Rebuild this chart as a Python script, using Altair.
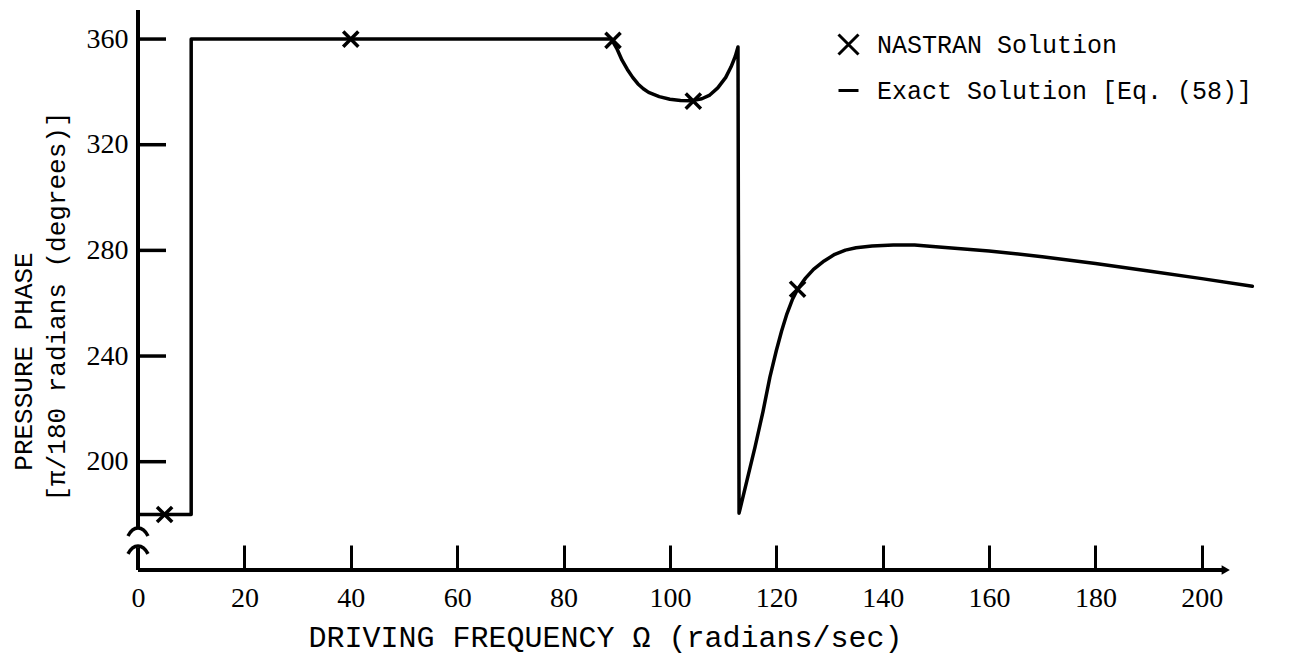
import altair as alt
import pandas as pd

# ---- data ----
exact_freq = [0, 10, 10, 89, 90, 91, 92, 93, 94, 95, 96, 98, 100, 102, 104, 106,
              107.5, 109, 110.5, 111.5, 112.3, 112.8, 113, 114.5, 116, 117.5, 118.8,
              120, 121, 122, 123, 124, 125.5, 127, 129, 131, 133, 135, 138, 142, 146,
              150, 160, 170, 180, 190, 200, 209.5]
exact_phase = [180, 180, 360, 360, 356.5, 352, 348.5, 345.5, 343, 341.2, 339.8, 338.2,
               337.2, 336.7, 336.6, 337.4, 338.8, 341.5, 345.5, 349.5, 353.5, 357,
               180.5, 193, 205.5, 219, 232, 242, 249.5, 256, 261.3, 265.3, 269.5, 272.8,
               276, 278.5, 280.1, 281, 281.7, 282, 282, 281.4, 279.8, 277.6, 275, 272.2,
               269.3, 266.4]

nastran_freq = [5, 40, 89.3, 104.4, 124]
nastran_phase = [180, 360, 359.5, 336.5, 265.3]

x_ticks = [0, 20, 40, 60, 80, 100, 120, 140, 160, 180, 200]
y_ticks = [200, 240, 280, 320, 360]

series_names = ["NASTRAN Solution", "Exact Solution [Eq. (58)]"]

x_domain = [0, 210]
y_domain = [159, 371]

PLOT_W = 1117
PLOT_H = 560
Y_TICK_PX = 28  # inward tick length in pixels

# axis decorations (broken y axis, x axis with arrow)
y_axis_segments_lo = [159, 167.5]
y_axis_segments_hi = [174.6, 371]
y_break_marks = [173.6, 166.8]
x_axis_end = 204.5

# ---- tables ----
exact_df = pd.DataFrame({"freq": exact_freq, "phase": exact_phase,
                         "idx": list(range(len(exact_freq)))})
nastran_df = pd.DataFrame({"freq": nastran_freq, "phase": nastran_phase,
                           "series": [series_names[0]] * len(nastran_freq)})
yaxis_df = pd.DataFrame({"x": [0, 0],
                         "y0": [y_axis_segments_lo[0], y_axis_segments_hi[0]],
                         "y1": [y_axis_segments_lo[1], y_axis_segments_hi[1]]})
break_df = pd.DataFrame({"x": [0, 0], "y": y_break_marks})
xaxis_df = pd.DataFrame({"x0": [0], "x1": [x_axis_end], "y": [y_domain[0]]})
arrow_df = pd.DataFrame({"x": [x_axis_end], "y": [y_domain[0]]})
tick_len_units = Y_TICK_PX * (x_domain[1] - x_domain[0]) / PLOT_W
ytick_df = pd.DataFrame({"tickval": y_ticks,
                         "t0": [x_domain[0]] * len(y_ticks),
                         "t1": [x_domain[0] + tick_len_units] * len(y_ticks)})

xscale = alt.Scale(domain=x_domain, nice=False, zero=False)
yscale = alt.Scale(domain=y_domain, nice=False, zero=False)

MONO = "Liberation Mono"
SERIF = "Liberation Serif"

x_label_axis = alt.Axis(values=x_ticks, ticks=False, domain=False, grid=False,
                        labelPadding=14, labelFlush=False,
                        title="DRIVING FREQUENCY Ω (radians/sec)", titleFontSize=30,
                        titleX=467, titleY=67, titleAlign="center",
                        titleBaseline="middle", orient="bottom")
y_label_axis = alt.Axis(values=y_ticks, ticks=False, domain=False, grid=False,
                        labelPadding=10, title="[π/180 radians (degrees)]",
                        titleX=-82, titleY=296, titleAngle=270, titleAlign="center",
                        titleBaseline="middle", orient="left")

x_tick_axis = alt.Axis(values=x_ticks[1:], offset=-25, tickSize=25, tickWidth=3,
                       labels=False, domain=False, grid=False, title=None,
                       orient="bottom")
y_title_axis = alt.Axis(values=y_ticks, ticks=False,
                        labels=False, domain=False, grid=False,
                        title="PRESSURE PHASE", titleX=-115, titleY=351,
                        titleAngle=270, titleAlign="center", titleBaseline="middle",
                        orient="left")

x_mark = "M -1 -1 L 1 1 M -1 1 L 1 -1"
arch = "M -1 0.45 Q -0.6 -0.35 0 -0.35 Q 0.6 -0.35 1 0.45"

line = alt.Chart(exact_df).mark_line(
    color="black", strokeWidth=3.5, strokeJoin="round", strokeCap="round"
).encode(
    x=alt.X("freq:Q", scale=xscale, axis=x_label_axis),
    y=alt.Y("phase:Q", scale=yscale, axis=y_label_axis),
    order=alt.Order("idx:Q"),
)

points = alt.Chart(nastran_df).mark_point(
    color="black", filled=False, strokeWidth=3.5, size=230, opacity=1
).encode(
    x=alt.X("freq:Q", scale=xscale, axis=x_tick_axis),
    y=alt.Y("phase:Q", scale=yscale, axis=y_title_axis),
    shape=alt.Shape(
        "series:N",
        scale=alt.Scale(domain=series_names, range=[x_mark, "stroke"]),
        legend=alt.Legend(
            orient="none", legendX=698, legendY=22, title=None,
            labelFont=MONO, labelFontSize=25, labelColor="black", labelLimit=0,
            symbolSize=400, symbolStrokeWidth=3, symbolStrokeColor="black",
            symbolFillColor="transparent", rowPadding=17, labelOffset=16,
            padding=0,
        ),
    ),
)

# inward-pointing y-axis ticks
y_tick_marks = alt.Chart(ytick_df).mark_rule(color="black", strokeWidth=3.5).encode(
    x=alt.X("t0:Q", scale=xscale, axis=None),
    x2="t1:Q",
    y=alt.Y("tickval:Q", scale=yscale, axis=None),
)

y_axis_rules = alt.Chart(yaxis_df).mark_rule(color="black", strokeWidth=4).encode(
    x=alt.X("x:Q", scale=xscale, axis=None),
    y=alt.Y("y0:Q", scale=yscale, axis=None),
    y2="y1:Q",
)

x_axis_rule = alt.Chart(xaxis_df).mark_rule(color="black", strokeWidth=4).encode(
    x=alt.X("x0:Q", scale=xscale, axis=None),
    x2="x1:Q",
    y=alt.Y("y:Q", scale=yscale, axis=None),
)

breaks = alt.Chart(break_df).mark_point(
    shape=arch, color="black", filled=False, strokeWidth=3.5, size=400, opacity=1
).encode(
    x=alt.X("x:Q", scale=xscale, axis=None),
    y=alt.Y("y:Q", scale=yscale, axis=None),
)

arrow = alt.Chart(arrow_df).mark_point(
    shape="triangle-right", color="black", filled=True, size=90, opacity=1
).encode(
    x=alt.X("x:Q", scale=xscale, axis=None),
    y=alt.Y("y:Q", scale=yscale, axis=None),
)

chart = alt.layer(line, points, y_tick_marks, y_axis_rules, x_axis_rule, breaks,
                  arrow).resolve_axis(
    x="independent", y="independent"
).properties(
    width=PLOT_W, height=PLOT_H,
    padding={"left": 130, "top": 2, "right": 20, "bottom": 85},
    autosize=alt.AutoSizeParams(type="none"),
    background="white",
).configure_view(stroke=None).configure_axis(
    labelFont=SERIF, labelFontSize=28, labelColor="black",
    titleFont=MONO, titleFontSize=26, titleFontWeight="normal", titleColor="black",
    tickColor="black", domainColor="black",
)

chart.save("out.html", embed_options={"renderer": "svg", "actions": False})
